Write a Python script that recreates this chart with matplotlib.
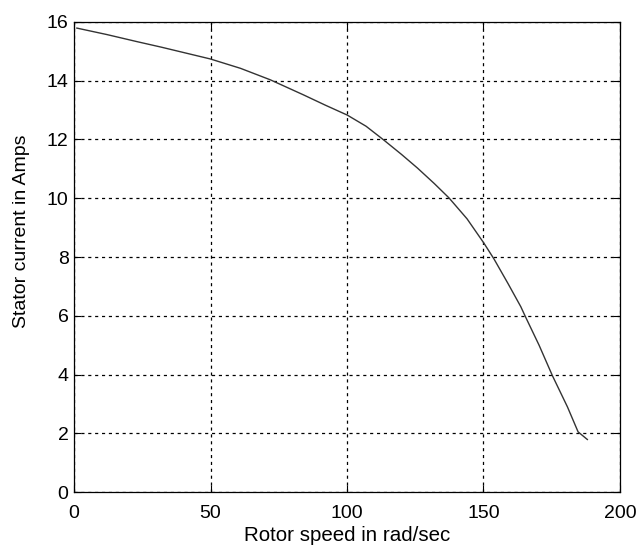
import matplotlib
matplotlib.use('Agg')
import matplotlib.pyplot as plt
import numpy as np

# stator current vs rotor speed
speed = [1.0, 12, 23.0, 32, 41.4, 49.9, 61, 71.9, 84.0, 92, 100.1, 107, 113.5, 120,
         125.8, 132, 137.4, 144, 150.2, 153.9, 159, 163.7, 165.5, 170.4, 175.3,
         180.8, 184.7, 188.1]
current = [15.79, 15.57, 15.33, 15.14, 14.93, 14.74, 14.42, 14.03, 13.52, 13.17, 12.83,
           12.45, 11.98, 11.49, 11.03, 10.5, 10.01, 9.3, 8.47, 7.93, 7.1, 6.31, 5.95,
           5.0, 3.96, 2.9, 2.05, 1.79]
xticks = [0, 50, 100, 150, 200]
yticks = [0, 2, 4, 6, 8, 10, 12, 14, 16]

plt.rcParams['font.family'] = ['Liberation Sans', 'DejaVu Sans']

fig = plt.figure(figsize=(6.39, 5.48), dpi=100)
ax = fig.add_axes([0.116, 0.102, 0.854, 0.858])
ax.plot(speed, current, color='#333333', linewidth=1.0)

ax.set_xlim(0, 200)
ax.set_ylim(0, 16)
ax.set_xticks(xticks)
ax.set_yticks(yticks)
ax.grid(True, linestyle=(0, (2.5, 3)), color='black', linewidth=0.9)
ax.tick_params(direction='in', top=True, right=True, labelsize=14, length=5)
ax.tick_params(axis='x', pad=9)
ax.tick_params(axis='y', pad=4)
for s in ax.spines.values():
    s.set_linewidth(0.9)

ax.set_xlabel('Rotor speed in rad/sec', fontsize=14.8, labelpad=3)
ax.set_ylabel('Stator current in Amps', fontsize=14)
ax.yaxis.set_label_coords(-0.08, 0.555)

fig.savefig('out.png', dpi=100)
